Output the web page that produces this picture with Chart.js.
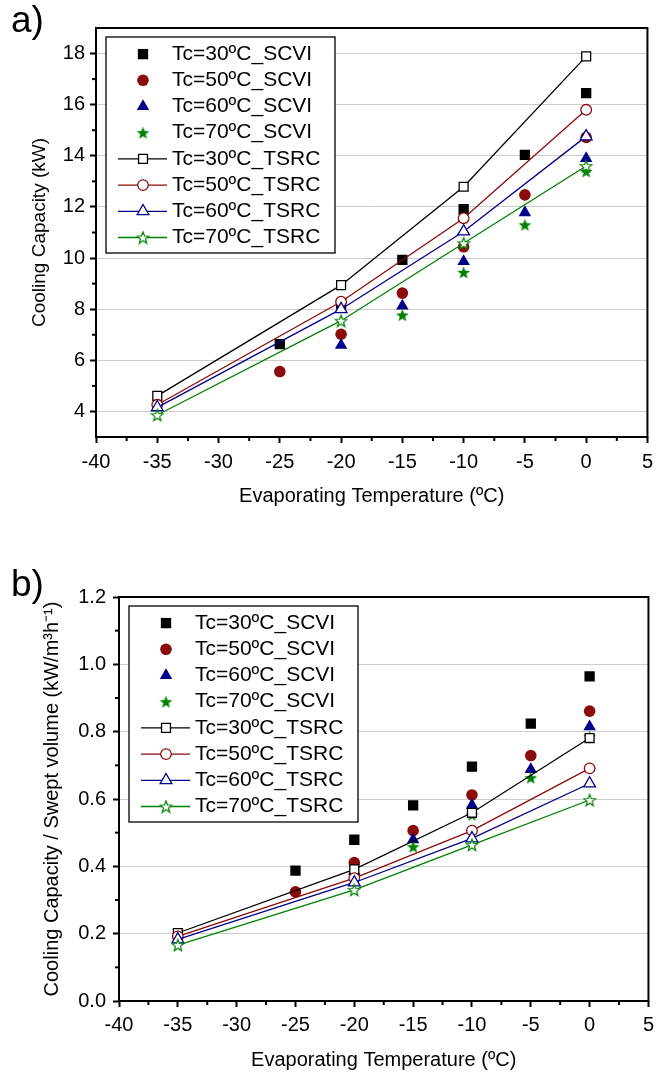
<!DOCTYPE html>
<html>
<head>
<meta charset="utf-8">
<script src="https://cdn.jsdelivr.net/npm/chart.js@4.4.1/dist/chart.umd.min.js"></script>
<style>
  body { margin: 0; background: #fff; }
  .panel { position: absolute; left: 0; }
  .tag { position: absolute; left: 11px; font: 37px "Liberation Sans", Arial, sans-serif; color: #000; line-height: 40px; }
</style>
</head>
<body>
<canvas id="chartA" class="panel" width="660" height="522" style="top:0"></canvas>
<canvas id="chartB" class="panel" width="660" height="534" style="top:540px"></canvas>
<div class="tag" style="top:0px">a)</div>
<div class="tag" style="top:564px">b)</div>

<script>
//------------------------------------------------------------
// data
const scviTemps = [-25, -20, -15, -10, -5, 0];
const tsrcTemps = [-35, -20, -10, 0];

// a) cooling capacity (kW)
const scviCap30 = [6.63, 8.20, 9.93, 11.91, 14.04, 16.45];
const scviCap50 = [5.56, 7.02, 8.63, 10.44, 12.47, 14.72];
const scviCap60 = [null, 6.59, 8.13, 9.87, 11.78, 13.90];
const scviCap70 = [null, null, 7.77, 9.44, 11.30, 13.39];
const tsrcCap30 = [4.61, 8.94, 12.79, 17.89];
const tsrcCap50 = [4.26, 8.29, 11.56, 15.80];
const tsrcCap60 = [4.16, 8.00, 11.04, 14.76];
const tsrcCap70 = [3.86, 7.55, 10.58, 13.60];

// b) cooling capacity / swept volume (kW/m3h-1)
const scviSpec30 = [0.387, 0.479, 0.581, 0.696, 0.824, 0.964];
const scviSpec50 = [0.324, 0.411, 0.506, 0.612, 0.729, 0.861];
const scviSpec60 = [null, 0.385, 0.479, 0.582, 0.688, 0.815];
const scviSpec70 = [null, null, 0.458, 0.553, 0.663, 0.785];
const tsrcSpec30 = [0.202, 0.391, 0.559, 0.781];
const tsrcSpec50 = [0.192, 0.365, 0.506, 0.691];
const tsrcSpec60 = [0.183, 0.352, 0.483, 0.646];
const tsrcSpec70 = [0.166, 0.330, 0.464, 0.597];

const seriesNames = [
    'Tc=30ºC_SCVI', 'Tc=50ºC_SCVI', 'Tc=60ºC_SCVI', 'Tc=70ºC_SCVI',
    'Tc=30ºC_TSRC', 'Tc=50ºC_TSRC', 'Tc=60ºC_TSRC', 'Tc=70ºC_TSRC',
];

const xTicks = [-40, -35, -30, -25, -20, -15, -10, -5, 0, 5];
const capTicks = [4, 6, 8, 10, 12, 14, 16, 18];
const specTicks = [0, 0.2, 0.4, 0.6, 0.8, 1.0, 1.2];

//------------------------------------------------------------
const FONT = '"Liberation Sans", Arial, sans-serif';
const colors = ['#000000', '#8b0a0a', '#00008b', '#008000'];
Chart.defaults.font.family = FONT;
Chart.defaults.color = '#000';

//----------------------------------
function starImage(size, fill, stroke) {
    const c = document.createElement('canvas');
    c.width = c.height = size;
    const g = c.getContext('2d');
    const cx = size / 2, cy = size / 2 + 0.6;
    const R = size / 2 - 0.8, r = R * 0.42;
    g.beginPath();
    for (let i = 0; i < 10; i++) {
        const rad = i % 2 ? r : R;
        const a = -Math.PI / 2 + i * Math.PI / 5;
        g.lineTo(cx + rad * Math.cos(a), cy + rad * Math.sin(a));
    }
    g.closePath();
    g.fillStyle = fill;
    g.fill();
    if (stroke) {
        g.strokeStyle = stroke;
        g.lineWidth = 1.2;
        g.stroke();
    }
    return c;
}

const filledStyles = ['rect', 'circle', 'triangle', starImage(15, colors[3])];
const filledRadius = [7.3, 5.8, 7.2, 6];
const openStyles = ['rect', 'circle', 'triangle', starImage(14, '#ffffff', colors[3])];
const openRadius = [6.3, 5.3, 6.8, 6];

//----------------------------------
function points(xs, ys) {
    return xs.map((x, i) => ({ x: x, y: ys[i] })).filter(p => p.y != null);
}

//----------------------------------
function buildDatasets(scvi, tsrc) {
    const sets = [];
    scvi.forEach((ys, i) => sets.push({
        label: seriesNames[i],
        data: points(scviTemps, ys),
        showLine: false,
        pointStyle: filledStyles[i],
        pointRadius: filledRadius[i],
        pointBackgroundColor: colors[i],
        pointBorderColor: colors[i],
        pointBorderWidth: 0,
        order: 20 - i,
    }));
    tsrc.forEach((ys, i) => sets.push({
        label: seriesNames[4 + i],
        data: points(tsrcTemps, ys),
        borderColor: colors[i],
        borderWidth: 1.3,
        pointStyle: openStyles[i],
        pointRadius: openRadius[i],
        pointBackgroundColor: '#ffffff',
        pointBorderColor: colors[i],
        pointBorderWidth: 1.3,
        order: 10 - i,
    }));
    return sets;
}

//------------------------------------------------------------
const frame = {
    id: 'frame',
    afterDatasetsDraw(chart) {
        const { ctx, chartArea: a } = chart;
        ctx.save();
        ctx.strokeStyle = '#000';
        ctx.lineWidth = 2;
        ctx.strokeRect(a.left, a.top, a.right - a.left, a.bottom - a.top);

        // minor ticks halfway between the major ones
        for (const scale of [chart.scales.x, chart.scales.y]) {
            const t = scale.ticks;
            for (let i = 0; i < t.length - 1; i++) {
                const p = scale.getPixelForValue((t[i].value + t[i + 1].value) / 2);
                ctx.beginPath();
                if (scale.isHorizontal()) {
                    ctx.moveTo(p, a.bottom);
                    ctx.lineTo(p, a.bottom + 4);
                } else {
                    ctx.moveTo(a.left, p);
                    ctx.lineTo(a.left - 4, p);
                }
                ctx.stroke();
            }
        }
        ctx.restore();
    }
};

//----------------------------------
const boxLegend = {
    id: 'boxLegend',
    afterDraw(chart, args, opts) {
        const ctx = chart.ctx, area = chart.chartArea;
        const left = area.left + opts.dx, top = area.top + opts.dy;
        ctx.save();
        ctx.fillStyle = '#fff';
        ctx.fillRect(left, top, opts.width, opts.height);
        ctx.strokeStyle = '#000';
        ctx.lineWidth = 1.3;
        ctx.strokeRect(left, top, opts.width, opts.height);
        ctx.font = '21px ' + FONT;
        ctx.textBaseline = 'middle';

        chart.data.datasets.forEach((ds, i) => {
            const y = top + opts.padTop + (i + 0.5) * opts.rowHeight;
            const sx = left + 37;
            if (ds.showLine !== false) {
                ctx.strokeStyle = ds.borderColor;
                ctx.lineWidth = ds.borderWidth;
                ctx.beginPath();
                ctx.moveTo(left + 12, y);
                ctx.lineTo(left + 61, y);
                ctx.stroke();
            }
            ctx.fillStyle = ds.pointBackgroundColor;
            ctx.strokeStyle = ds.pointBorderColor;
            ctx.lineWidth = ds.pointBorderWidth;
            Chart.helpers.drawPoint(ctx, {
                pointStyle: ds.pointStyle,
                radius: ds.pointRadius,
                borderWidth: ds.pointBorderWidth,
                rotation: 0,
            }, sx, y);
            ctx.fillStyle = '#000';
            ctx.fillText(ds.label, left + 66, y);
        });
        ctx.restore();
    }
};

//------------------------------------------------------------
function makeChart(id, cfg) {
    return new Chart(document.getElementById(id), {
        type: 'line',
        data: { datasets: buildDatasets(cfg.scvi, cfg.tsrc) },
        plugins: [frame, boxLegend],
        options: {
            responsive: false,
            animation: false,
            events: [],
            layout: { padding: cfg.padding },
            plugins: {
                legend: { display: false },
                tooltip: { enabled: false },
                boxLegend: { dx: 10, dy: 9, width: 229, height: 216, padTop: 4, rowHeight: 26.2 },
            },
            scales: {
                x: {
                    type: 'linear',
                    min: -40,
                    max: 5,
                    afterBuildTicks: s => { s.ticks = xTicks.map(v => ({ value: v })); },
                    afterFit: s => { s.height = cfg.xHeight; },
                    border: { display: false },
                    grid: { drawOnChartArea: false, color: '#000', tickColor: '#000', tickLength: 6, tickWidth: 2 },
                    ticks: { font: { size: 20 }, color: '#000', padding: cfg.xPad, maxRotation: 0, autoSkip: false, callback: v => String(v) },
                    title: { display: true, text: 'Evaporating Temperature (ºC)', font: { size: 20 }, color: '#000', padding: { top: 0, bottom: cfg.xTitlePad } },
                },
                y: {
                    type: 'linear',
                    min: cfg.yMin,
                    max: cfg.yMax,
                    afterBuildTicks: s => { s.ticks = cfg.yTicks.map(v => ({ value: v })); },
                    afterFit: s => { s.width = cfg.yWidth; },
                    border: { display: false },
                    grid: { color: '#cccccc', lineWidth: 1, tickColor: '#000', tickLength: 6, tickWidth: 2 },
                    ticks: { font: { size: 20 }, color: '#000', padding: cfg.yPad, autoSkip: false, callback: v => v.toFixed(cfg.decimals) },
                    title: { display: true, text: cfg.yTitle, font: { size: cfg.yTitleSize }, color: '#000', padding: { top: cfg.yTitlePad, bottom: 0 } },
                },
            },
        },
    });
}

//------------------------------------------------------------
makeChart('chartA', {
    scvi: [scviCap30, scviCap50, scviCap60, scviCap70],
    tsrc: [tsrcCap30, tsrcCap50, tsrcCap60, tsrcCap70],
    yMin: 3, yMax: 19, yTicks: capTicks, decimals: 0,
    yTitle: 'Cooling Capacity (kW)', yTitleSize: 19,
    padding: { top: 28, right: 9, bottom: 0, left: 0 },
    yWidth: 96, xHeight: 85, xPad: 7, yPad: 5, xTitlePad: 14, yTitlePad: 28,
});

makeChart('chartB', {
    scvi: [scviSpec30, scviSpec50, scviSpec60, scviSpec70],
    tsrc: [tsrcSpec30, tsrcSpec50, tsrcSpec60, tsrcSpec70],
    yMin: 0, yMax: 1.2, yTicks: specTicks, decimals: 1,
    yTitle: 'Cooling Capacity / Swept volume (kW/m³h⁻¹)', yTitleSize: 20,
    padding: { top: 57, right: 6, bottom: 0, left: 0 },
    yWidth: 119, xHeight: 73, xPad: 6, yPad: 7, xTitlePad: 2, yTitlePad: 40,
});
</script>
</body>
</html>
